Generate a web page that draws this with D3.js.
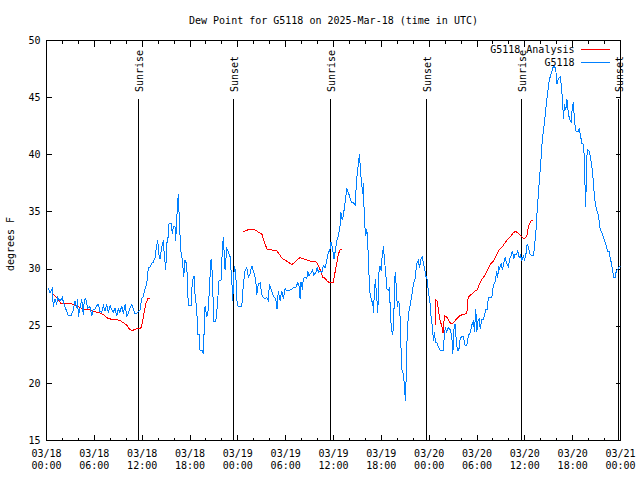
<!DOCTYPE html>
<html><head><meta charset="utf-8">
<script src="https://cdn.jsdelivr.net/npm/d3@7"></script>
<style>
html,body{margin:0;padding:0;background:#fff;}
svg{display:block;}
text{font-family:"DejaVu Sans Mono",monospace;font-size:10px;fill:#000;}
</style></head><body>
<svg id="chart" width="640" height="480"></svg>
<script>
// ---------- data ----------
const chartTitle = "Dew Point for G5118 on 2025-Mar-18 (time in UTC)";
const yAxisLabel = "degrees F";
const startUTC = Date.UTC(2025, 2, 18, 0, 0);   // 03/18 00:00 UTC
const spanHours = 72;
const yDomain = [15, 50];
const yTickValues = [15, 20, 25, 30, 35, 40, 45, 50];
const xMajorHours = d3.range(0, 73, 6);
const xMinorHours = d3.range(0, 73, 2).filter(h => h % 6 !== 0);
const legendNames = ["G5118 Analysis", "G5118"];
const seriesColors = ["#ff0000", "#0080ff"];

const sunLabels = ["Sunrise", "Sunset", "Sunrise", "Sunset", "Sunrise", "Sunset"];
const sunHours  = [11.52, 23.44, 35.61, 47.58, 59.54, 71.67];

// observed dew point [hours since start, degF]
const observed = [[0.23,28.3],[0.44,27.9],[0.73,28.3],[0.85,26.7],[1.07,27.4],[1.28,26.9],[1.41,27.5],[1.69,27.2],[1.98,27.5],[2.16,27.0],[2.74,25.9],[3.07,25.9],[3.36,26.4],[3.58,27.2],[3.79,26.6],[3.91,27.4],[3.99,25.8],[4.20,26.6],[4.42,27.4],[4.62,26.0],[4.74,27.3],[4.92,27.4],[5.17,26.6],[5.46,26.7],[5.67,25.9],[5.87,26.5],[6.09,26.5],[6.30,26.8],[6.50,26.9],[6.71,26.3],[6.93,26.2],[7.13,26.8],[7.34,26.3],[7.55,26.9],[7.75,26.2],[7.97,26.8],[8.18,26.5],[8.38,26.2],[8.59,26.6],[8.81,25.9],[9.01,26.5],[9.22,26.2],[9.44,26.8],[9.64,26.1],[9.85,26.9],[10.06,25.9],[10.26,26.1],[10.48,26.6],[10.69,26.9],[10.89,26.5],[11.10,26.1],[11.32,26.1],[11.52,26.3],[11.73,26.4],[11.94,27.4],[12.15,27.6],[12.36,28.3],[12.57,28.7],[12.77,30.1],[12.99,30.2],[13.20,30.5],[13.40,30.6],[13.61,31.0],[13.83,32.1],[13.95,32.5],[14.12,31.2],[14.24,30.9],[14.45,31.9],[14.65,32.5],[14.78,31.2],[14.96,29.9],[15.08,32.2],[15.28,32.9],[15.37,34.0],[15.62,34.0],[15.78,33.1],[15.91,33.7],[16.12,33.7],[16.21,32.5],[16.41,35.4],[16.54,36.6],[16.66,34.2],[16.84,31.6],[17.04,30.8],[17.21,29.3],[17.38,30.8],[17.59,30.4],[17.79,26.8],[18.13,26.8],[18.29,28.9],[18.51,29.4],[18.63,27.8],[18.85,26.4],[18.97,24.3],[19.13,24.3],[19.26,22.9],[19.55,22.9],[19.67,22.6],[19.89,26.8],[20.10,25.8],[20.30,26.5],[20.51,29.3],[20.64,30.9],[20.80,29.6],[20.98,25.4],[21.23,25.4],[21.43,26.8],[21.64,29.0],[21.89,29.0],[22.06,31.8],[22.18,32.8],[22.40,29.9],[22.61,31.8],[22.81,31.5],[23.02,31.1],[23.24,29.0],[23.36,27.25],[23.56,30.3],[23.74,29.6],[23.86,27.4],[23.99,26.8],[24.15,26.7],[24.49,26.7],[24.69,28.7],[24.91,29.9],[25.12,30.1],[25.32,29.3],[25.53,29.6],[25.75,30.3],[25.87,30.0],[26.04,29.6],[26.25,29.0],[26.37,27.7],[26.57,28.7],[26.79,28.8],[27.00,27.8],[27.20,27.5],[27.42,27.4],[27.63,27.5],[27.83,27.25],[27.96,28.7],[28.17,28.2],[28.33,27.9],[28.58,27.5],[28.76,27.4],[28.92,26.5],[29.08,28.1],[29.30,27.25],[29.51,28.1],[29.71,27.4],[29.92,28.3],[30.14,28.1],[30.34,28.1],[30.68,28.2],[30.97,28.4],[31.27,28.4],[31.52,28.8],[31.68,28.5],[31.81,27.4],[31.93,28.9],[32.10,28.2],[32.22,29.2],[32.43,29.3],[32.65,29.2],[32.77,29.8],[32.94,29.4],[33.19,29.7],[33.35,29.9],[33.53,29.5],[33.78,29.7],[33.98,30.2],[34.10,29.7],[34.32,29.8],[34.53,29.7],[34.73,30.3],[34.94,30.1],[35.16,30.75],[35.36,31.5],[35.53,31.6],[35.70,32.4],[35.86,31.9],[36.07,30.9],[36.20,31.5],[36.41,32.5],[36.61,32.9],[36.83,33.8],[36.91,35.0],[37.08,34.3],[37.24,34.7],[37.45,35.85],[37.67,37.0],[37.87,36.7],[38.08,36.2],[38.29,35.8],[38.49,35.8],[38.71,35.6],[38.92,38.0],[39.12,39.2],[39.25,40.1],[39.42,38.3],[39.55,37.3],[39.67,36.6],[39.75,37.5],[39.87,34.25],[40.05,32.9],[40.18,33.5],[40.30,32.2],[40.46,29.4],[40.59,27.8],[40.80,27.2],[40.93,27.1],[41.00,26.2],[41.13,27.95],[41.25,29.1],[41.43,27.5],[41.56,26.2],[41.68,29.6],[41.84,30.3],[41.97,29.85],[42.09,31.0],[42.26,32.0],[42.38,30.9],[42.56,29.6],[42.68,28.3],[42.89,28.15],[43.01,28.3],[43.19,25.5],[43.31,24.6],[43.44,24.2],[43.60,26.7],[43.73,29.7],[43.85,28.7],[44.01,26.7],[44.14,27.2],[44.27,26.9],[44.35,25.8],[44.48,22.9],[44.60,21.1],[44.77,20.8],[44.89,19.8],[45.02,18.5],[45.11,20.4],[45.23,24.0],[45.40,26.1],[45.61,26.8],[45.82,27.7],[46.02,28.7],[46.24,29.2],[46.45,30.5],[46.65,30.8],[46.78,30.1],[46.95,30.8],[47.11,31.1],[47.28,30.5],[47.40,30.1],[47.58,29.4],[47.78,29.0],[47.90,28.0],[48.12,27.0],[48.24,25.8],[48.41,24.9],[48.53,23.75],[48.66,24.5],[48.78,23.6],[48.96,23.6],[49.16,23.2],[49.37,22.9],[49.59,22.9],[49.79,22.9],[49.91,24.4],[50.04,24.8],[50.21,24.5],[50.41,24.9],[50.63,24.7],[50.84,24.1],[50.97,22.6],[51.13,24.9],[51.25,25.2],[51.38,23.9],[51.54,22.9],[51.72,22.9],[51.88,23.9],[52.09,24.1],[52.30,24.1],[52.51,23.3],[52.72,23.3],[52.92,24.2],[53.14,24.4],[53.35,25.1],[53.55,25.5],[53.68,24.5],[53.85,26.5],[53.98,24.5],[54.10,25.4],[54.30,25.7],[54.39,24.8],[54.61,25.6],[54.81,25.6],[54.93,25.9],[55.11,26.5],[55.27,26.5],[55.43,27.5],[55.65,27.5],[55.86,27.5],[56.06,28.6],[56.27,28.9],[56.49,29.8],[56.61,29.2],[56.69,30.3],[56.81,30.0],[57.03,30.45],[57.19,29.9],[57.37,30.6],[57.53,31.05],[57.74,30.45],[57.94,30.2],[58.12,30.9],[58.28,31.2],[58.44,31.6],[58.62,30.9],[58.78,31.3],[58.95,31.3],[59.12,31.6],[59.28,31.0],[59.45,31.2],[59.62,30.75],[59.82,31.2],[59.95,30.75],[60.12,31.2],[60.29,32.2],[60.45,31.9],[60.66,31.3],[60.88,31.2],[61.08,31.2],[61.20,31.9],[61.38,33.2],[61.54,35.1],[61.71,36.6],[61.83,37.9],[62.01,39.35],[62.13,40.8],[62.33,42.1],[62.55,43.4],[62.67,44.3],[62.89,45.6],[63.05,46.5],[63.30,47.1],[63.51,47.6],[63.71,47.8],[63.89,47.4],[64.02,46.2],[64.22,46.65],[64.43,46.8],[64.56,46.2],[64.72,44.9],[64.84,43.15],[64.97,44.4],[65.14,43.9],[65.27,44.9],[65.47,43.6],[65.60,43.15],[65.81,42.9],[65.97,44.3],[66.10,44.6],[66.22,43.0],[66.40,42.1],[66.65,42.0],[66.81,42.3],[66.98,41.7],[67.15,41.0],[67.35,40.9],[67.48,39.6],[67.57,36.7],[67.65,35.4],[67.73,39.75],[67.90,40.4],[68.11,40.3],[68.32,39.4],[68.48,38.6],[68.66,37.0],[68.82,35.85],[69.03,35.1],[69.23,34.7],[69.45,33.5],[69.66,33.2],[69.86,32.8],[70.08,32.35],[70.29,31.8],[70.41,31.5],[70.58,31.5],[70.70,31.0],[70.83,30.6],[70.99,29.9],[71.17,29.3],[71.33,29.3],[71.49,29.9],[71.67,30.0],[71.83,30.2],[72.00,30.2]];

// analysis dew point, three separate runs [hours since start, degF]
const analysisRun1 = [[0.85,27.8],[1.28,27.5],[1.57,27.2],[1.82,27.0],[2.32,27.0],[3.07,27.0],[3.36,26.9],[3.99,26.7],[4.62,26.5],[5.24,26.5],[5.87,26.3],[6.50,26.2],[6.93,26.1],[7.34,25.9],[7.68,25.7],[8.18,25.6],[8.59,25.6],[9.22,25.5],[9.64,25.3],[10.06,25.1],[10.35,24.8],[10.69,24.6],[11.02,24.7],[11.44,24.8],[11.86,24.85],[12.07,25.5],[12.27,26.3],[12.48,27.0],[12.70,27.4],[12.99,27.4]];
const analysisRun2 = [[24.69,33.26],[25.12,33.4],[25.66,33.5],[25.95,33.5],[26.25,33.4],[26.66,33.2],[27.00,33.1],[27.20,32.65],[27.42,32.2],[27.67,31.7],[28.04,31.7],[28.46,31.65],[28.88,31.6],[29.21,31.3],[29.59,30.9],[29.92,30.8],[30.34,30.6],[30.77,30.4],[31.09,30.55],[31.43,30.8],[31.81,31.0],[32.22,30.9],[32.65,30.8],[33.06,30.7],[33.48,30.7],[33.90,30.6],[34.19,30.2],[34.44,29.7],[34.65,29.3],[34.94,29.2],[35.28,28.9],[35.57,28.8],[35.95,28.8],[36.11,29.4],[36.41,30.5],[36.61,31.3],[36.83,31.7],[37.04,31.7]];
const analysisRun3 = [[48.75,25.1],[48.81,27.3],[49.03,27.2],[49.16,26.4],[49.37,25.5],[49.59,25.0],[49.75,24.4],[49.91,25.9],[50.21,25.8],[50.46,25.5],[50.72,25.2],[51.04,25.3],[51.38,25.6],[51.80,25.9],[52.30,26.05],[52.72,26.1],[52.89,27.5],[53.14,27.7],[53.48,27.9],[53.76,28.1],[54.05,28.2],[54.30,28.7],[54.61,29.1],[55.02,29.5],[55.65,30.4],[56.06,30.7],[56.69,31.6],[57.11,31.9],[57.74,32.5],[58.15,32.8],[58.57,33.2],[58.87,33.3],[59.20,33.1],[59.62,32.8],[59.95,32.65],[60.25,32.9],[60.45,33.7],[60.79,34.25],[61.08,34.3]];

// ---------- drawing ----------
const toDate = h => new Date(startUTC + h * 3600000);
const svg = d3.select("#chart");
const L = 46.5, R = 620.5, T = 40.5, B = 440.5;

const x = d3.scaleUtc().domain([toDate(0), toDate(spanHours)]).range([L, R]);
const y = d3.scaleLinear().domain(yDomain).range([B, T]);

svg.append("rect").attr("width", 640).attr("height", 480).attr("fill", "#fff");

svg.append("defs").append("clipPath").attr("id", "plotclip")
  .append("rect").attr("x", L).attr("y", T).attr("width", R - L).attr("height", B - T);

const fmtDay = d3.utcFormat("%m/%d");
const fmtTime = d3.utcFormat("%H:%M");

function styleAxis(g) {
  g.select(".domain").remove();
  g.selectAll(".tick line").attr("stroke", "#000").attr("shape-rendering", "crispEdges");
  g.selectAll("text").attr("font-family", null).attr("font-size", null);
}

// bottom major
const gB = svg.append("g").attr("transform", `translate(0,${B})`)
  .call(d3.axisBottom(x).tickValues(xMajorHours.map(toDate)).tickSizeInner(-6).tickSizeOuter(0).offset(0).tickPadding(0))
  .call(styleAxis);
gB.selectAll(".tick text").each(function(d) {
  const t = d3.select(this);
  t.text(null).attr("y", null).attr("dy", null);
  t.append("tspan").attr("x", 0).attr("y", 16.5).text(fmtDay(d));
  t.append("tspan").attr("x", 0).attr("y", 28.5).text(fmtTime(d));
});
// bottom minor
svg.append("g").attr("transform", `translate(0,${B})`)
  .call(d3.axisBottom(x).tickValues(xMinorHours.map(toDate)).tickSizeInner(-3).tickSizeOuter(0).offset(0).tickFormat(""))
  .call(styleAxis);
// top major + minor
svg.append("g").attr("transform", `translate(0,${T})`)
  .call(d3.axisTop(x).tickValues(xMajorHours.map(toDate)).tickSizeInner(-6).tickSizeOuter(0).offset(0).tickFormat(""))
  .call(styleAxis);
svg.append("g").attr("transform", `translate(0,${T})`)
  .call(d3.axisTop(x).tickValues(xMinorHours.map(toDate)).tickSizeInner(-3).tickSizeOuter(0).offset(0).tickFormat(""))
  .call(styleAxis);
// left
svg.append("g").attr("transform", `translate(${L},0)`)
  .call(d3.axisLeft(y).tickValues(yTickValues).tickSizeInner(-5).tickSizeOuter(0).offset(0).tickPadding(6).tickFormat(d3.format("d")))
  .call(styleAxis);
// right
svg.append("g").attr("transform", `translate(${R},0)`)
  .call(d3.axisRight(y).tickValues(yTickValues).tickSizeInner(-5).tickSizeOuter(0).offset(0).tickFormat(""))
  .call(styleAxis);

// border
svg.append("rect").attr("x", L).attr("y", T).attr("width", R - L).attr("height", B - T)
  .attr("fill", "none").attr("stroke", "#000").attr("shape-rendering", "crispEdges");

// title & y label
svg.append("text").attr("x", (L + R) / 2).attr("y", 24).attr("text-anchor", "middle").text(chartTitle);
svg.append("text").attr("transform", `translate(14,244) rotate(-90)`).attr("text-anchor", "middle").text(yAxisLabel);

// sunrise / sunset markers
const sun = sunHours.map((h, i) => ({ h, label: sunLabels[i] }));
const gs = svg.append("g");
gs.selectAll("line").data(sun).join("line")
  .attr("x1", d => Math.round(x(toDate(d.h))) + 0.5).attr("x2", d => Math.round(x(toDate(d.h))) + 0.5)
  .attr("y1", 99).attr("y2", B)
  .attr("stroke", "#000").attr("shape-rendering", "crispEdges");
gs.selectAll("text").data(sun).join("text")
  .attr("transform", d => `translate(${Math.round(x(toDate(d.h))) + 4.5},92) rotate(-90)`)
  .attr("text-anchor", "start").text(d => d.label);

// lines
const line = d3.line().x(d => x(toDate(d[0]))).y(d => y(d[1]));
const gl = svg.append("g").attr("clip-path", "url(#plotclip)");
[analysisRun1, analysisRun2, analysisRun3].forEach(run => {
  gl.append("path").datum(run).attr("d", line).attr("fill", "none")
    .attr("stroke", seriesColors[0]).attr("stroke-width", 1).attr("shape-rendering", "crispEdges");
});
gl.append("path").datum(observed).attr("d", line).attr("fill", "none")
  .attr("stroke", seriesColors[1]).attr("stroke-width", 1).attr("shape-rendering", "crispEdges");

// legend
const gLeg = svg.append("g");
legendNames.forEach((name, i) => {
  const ly = 49.5 + i * 13;
  gLeg.append("text").attr("x", 574.5).attr("y", ly + 3.5).attr("text-anchor", "end").text(name);
  gLeg.append("line").attr("x1", 581).attr("x2", 610).attr("y1", ly).attr("y2", ly)
    .attr("stroke", seriesColors[i]).attr("shape-rendering", "crispEdges");
});
</script>
</body></html>
